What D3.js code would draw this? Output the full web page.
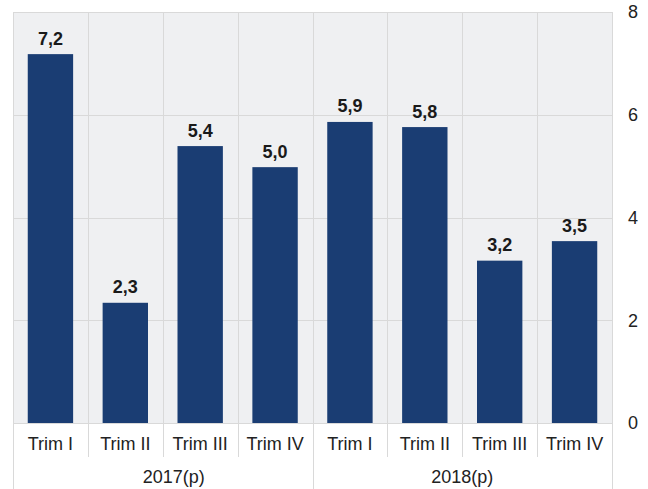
<!DOCTYPE html>
<html>
<head>
<meta charset="utf-8">
<script src="https://cdn.jsdelivr.net/npm/d3@7"></script>
<style>
  html, body { margin: 0; padding: 0; background: #ffffff; }
  svg { display: block; }
  text { font-family: "Liberation Sans", Arial, sans-serif; }
</style>
</head>
<body>
<svg id="chart" width="648" height="489"></svg>
<script>
const years = ["2017(p)", "2018(p)"];
const quarters = ["Trim I", "Trim II", "Trim III", "Trim IV"];
const values2017 = [7.18, 2.34, 5.39, 4.98];
const values2018 = [5.86, 5.76, 3.16, 3.54];
const yTicks = [0, 2, 4, 6, 8];

const data = [];
[values2017, values2018].forEach((vals, gi) => {
  vals.forEach((v, qi) => data.push({ key: years[gi] + "|" + quarters[qi], year: years[gi], quarter: quarters[qi], value: v }));
});

const W = 648, H = 489;
const mLeft = 13, mRight = 612, mTop = 12, mBottom = 423;
const svg = d3.select("#chart");

const x = d3.scaleBand()
  .domain(data.map(d => d.key))
  .range([mLeft, mRight])
  .paddingInner(0.394)
  .paddingOuter(0.197);
const y = d3.scaleLinear().domain([0, 8]).range([mBottom, mTop]);

const gridColor = "#d9d9d9";

// plot background
svg.append("rect")
  .attr("x", mLeft).attr("y", mTop)
  .attr("width", mRight - mLeft).attr("height", mBottom - mTop)
  .attr("fill", "#eff0f2");

// horizontal grid
svg.append("g").selectAll("line").data(yTicks).join("line")
  .attr("x1", mLeft).attr("x2", mRight)
  .attr("y1", d => Math.round(y(d)) + 0.5).attr("y2", d => Math.round(y(d)) + 0.5)
  .attr("stroke", gridColor).attr("stroke-width", 1);

// vertical separators
const step = x.step();
const boundaries = d3.range(data.length + 1).map(i => mLeft + i * step);
svg.append("g").selectAll("line").data(boundaries).join("line")
  .attr("x1", d => Math.round(d) + 0.5).attr("x2", d => Math.round(d) + 0.5)
  .attr("y1", mTop)
  .attr("y2", (d, i) => (i % quarters.length === 0) ? H : 457)
  .attr("stroke", gridColor).attr("stroke-width", 1);

// bars
svg.append("g").selectAll("rect").data(data).join("rect")
  .attr("x", d => x(d.key))
  .attr("y", d => y(d.value))
  .attr("width", x.bandwidth())
  .attr("height", d => y(0) - y(d.value))
  .attr("fill", "#1a3d73");

// value labels
svg.append("g").selectAll("text").data(data).join("text")
  .attr("x", d => x(d.key) + x.bandwidth() / 2)
  .attr("y", d => y(d.value) - 9.5)
  .attr("text-anchor", "middle")
  .attr("font-size", 18)
  .attr("font-weight", "bold")
  .attr("fill", "#1a1a1a")
  .text(d => d3.format(".1f")(d.value).replace(".", ","));

// y axis (right)
const yAxis = d3.axisRight(y).tickValues(yTicks).tickSize(0).tickPadding(16).tickFormat(d3.format("d"));
const gy = svg.append("g").attr("transform", `translate(${mRight},0)`).call(yAxis);
gy.select(".domain").remove();
gy.selectAll("text").attr("font-size", 18).attr("fill", "#222").style("font-family", '"Liberation Sans", Arial, sans-serif');

// x axis quarter labels
const xAxis = d3.axisBottom(x).tickSize(0).tickPadding(0).tickFormat(k => k.split("|")[1]);
const gx = svg.append("g").attr("transform", `translate(0,${mBottom})`).call(xAxis);
gx.select(".domain").remove();
gx.selectAll("text")
  .attr("y", 27).attr("dy", null)
  .attr("font-size", 18).attr("fill", "#222")
  .style("font-family", '"Liberation Sans", Arial, sans-serif');

// group (year) labels
const groupOffsets = [11, 0];
svg.append("g").selectAll("text").data(years).join("text")
  .attr("x", (d, i) => mLeft + (i * quarters.length + quarters.length / 2) * step + groupOffsets[i])
  .attr("y", 483)
  .attr("text-anchor", "middle")
  .attr("font-size", 18)
  .attr("fill", "#222")
  .text(d => d);
</script>
</body>
</html>
